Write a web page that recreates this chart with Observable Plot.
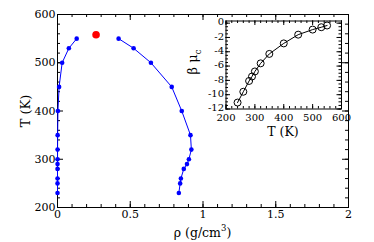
<!DOCTYPE html>
<html><head><meta charset="utf-8">
<script src="https://cdn.jsdelivr.net/npm/d3@7"></script>
<script src="https://cdn.jsdelivr.net/npm/@observablehq/plot@0.6"></script>
<style>
body{margin:0;background:#fff}
#wrap{position:relative;width:374px;height:242px}
#wrap svg{position:absolute;max-width:none}
</style>
</head><body><div id="wrap"></div>
<script>
// Coexistence curve (main panel)
const temps = [550, 530, 500, 450, 400, 350, 320, 300, 290, 280, 260, 250, 230];
const vaporRho = [0.132, 0.078, 0.032, 0.011, 0.003, 0.001, 0.0005, 0.0003, 0.0002, 0.0001, 0.0001, 0.0001, 0.0001];
const liquidRho = [0.42, 0.523, 0.642, 0.785, 0.854, 0.914, 0.92, 0.903, 0.89, 0.868, 0.848, 0.843, 0.834];
const critRho = [0.265];
const critT = [558];
// Inset: beta*mu_c vs T
const insetT = [240, 260, 280, 290, 300, 320, 350, 400, 450, 500, 530, 550];
const insetBetaMu = [-11.1, -9.59, -8.08, -7.46, -6.75, -5.62, -4.30, -2.83, -1.61, -0.90, -0.57, -0.33];
// Tick labels
const rhoTicks = [0, 0.5, 1, 1.5, 2];
const tTicks = [200, 300, 400, 500, 600];
const insetXTicks = [200, 300, 400, 500, 600];
const insetYTicks = [0, -2, -4, -6, -8, -10, -12];

const vapor = temps.map((T, i) => ({T, rho: vaporRho[i]}));
const liquid = temps.map((T, i) => ({T, rho: liquidRho[i]}));
const crit = critT.map((T, i) => ({T, rho: critRho[i]}));
const inset = insetT.map((T, i) => ({T, bmu: insetBetaMu[i]}));

function inward(xs, ys, xd, yd, len) {
  return [
    Plot.ruleX(xs, {x: d => d, y1: () => yd[0], y2: () => yd[0], insetTop: -len, stroke: "black"}),
    Plot.ruleX(xs, {x: d => d, y1: () => yd[1], y2: () => yd[1], insetBottom: -len, stroke: "black"}),
    Plot.ruleY(ys, {y: d => d, x1: () => xd[0], x2: () => xd[0], insetRight: -len, stroke: "black"}),
    Plot.ruleY(ys, {y: d => d, x1: () => xd[1], x2: () => xd[1], insetLeft: -len, stroke: "black"})
  ];
}

const font = "DejaVu Serif";
const xd = [0, 2], yd = [200, 600];
const main = Plot.plot({
  width: 374, height: 242,
  marginLeft: 57, marginRight: 26, marginTop: 14, marginBottom: 35,
  x: {domain: xd}, y: {domain: yd},
  style: {fontFamily: font, fontSize: "11px", background: "transparent", color: "black"},
  marks: [
    Plot.frame({stroke: "black"}),
    ...inward(d3.range(0, 2.001, 0.1), d3.range(200, 600.1, 20), xd, yd, 3),
    ...inward(rhoTicks, tTicks, xd, yd, 6),
    Plot.axisX(rhoTicks, {tickSize: 0, tickPadding: 3, tickFormat: d => String(d), label: null, fontSize: 11}),
    Plot.axisY(tTicks, {tickSize: 0, tickPadding: 2, tickFormat: d => String(d), label: null, fontSize: 11}),
    Plot.line(vapor, {x: "rho", y: "T", stroke: "#0000ff", strokeWidth: 1}),
    Plot.dot(vapor, {x: "rho", y: "T", r: 2.3, fill: "#0000ff"}),
    Plot.line(liquid, {x: "rho", y: "T", stroke: "#0000ff", strokeWidth: 1}),
    Plot.dot(liquid, {x: "rho", y: "T", r: 2.3, fill: "#0000ff"}),
    Plot.dot(crit, {x: "rho", y: "T", r: 3.8, fill: "#ff0000"})
  ]
});

const ixd = [200, 600], iyd = [-12, 0.3];
const insetPlot = Plot.plot({
  width: 173, height: 144,
  marginLeft: 45.5, marginRight: 12, marginTop: 20.5, marginBottom: 35.5,
  x: {domain: ixd}, y: {domain: iyd},
  style: {fontFamily: font, fontSize: "10px", background: "transparent", color: "black"},
  marks: [
    Plot.frame({stroke: "black", fill: "white"}),
    ...inward(d3.range(200, 600.1, 20), d3.range(-12, 0.01, 0.5), ixd, iyd, 2.5),
    ...inward(insetXTicks, insetYTicks, ixd, iyd, 4.5),
    Plot.axisX(insetXTicks, {tickSize: 0, tickPadding: 5, tickFormat: d => String(d), label: null, fontSize: 10}),
    Plot.axisY(insetYTicks, {tickSize: 0, tickPadding: 2, dy: -1, tickFormat: d => String(d), label: null, fontSize: 10}),
    Plot.line(inset, {x: "T", y: "bmu", stroke: "black", strokeWidth: 1}),
    Plot.dot(inset, {x: "T", y: "bmu", r: 3.5, stroke: "black", fill: "none", strokeWidth: 1})
  ]
});

const wrap = document.getElementById("wrap");
main.style.left = "0px"; main.style.top = "0px";
insetPlot.style.left = "180px"; insetPlot.style.top = "0px";
wrap.appendChild(main);
wrap.appendChild(insetPlot);

// Axis titles
const ms = d3.select(main);
const xt = ms.append("text").attr("x", 202.5).attr("y", 237).attr("text-anchor", "middle")
  .attr("font-size", 12.5).text("ρ (g/cm");
xt.append("tspan").attr("dy", -6).attr("font-size", 8.5).text("3");
xt.append("tspan").attr("dy", 6).text(")");
ms.append("text").attr("transform", "translate(30,111) rotate(-90)").attr("text-anchor", "middle")
  .attr("font-size", 13).text("T (K)");

const is = d3.select(insetPlot);
is.append("text").attr("x", 103).attr("y", 136).attr("text-anchor", "middle")
  .attr("font-size", 12.5).text("T (K)");
const yl = is.append("text").attr("transform", "translate(17,62) rotate(-90)").attr("text-anchor", "middle")
  .attr("font-size", 13).text("β μ");
yl.append("tspan").attr("dy", 4).attr("font-size", 8.5).text("c");

for (const svg of [main, insetPlot]) {
  d3.select(svg).selectAll("text").attr("font-family", font);
}
</script>
</body></html>
